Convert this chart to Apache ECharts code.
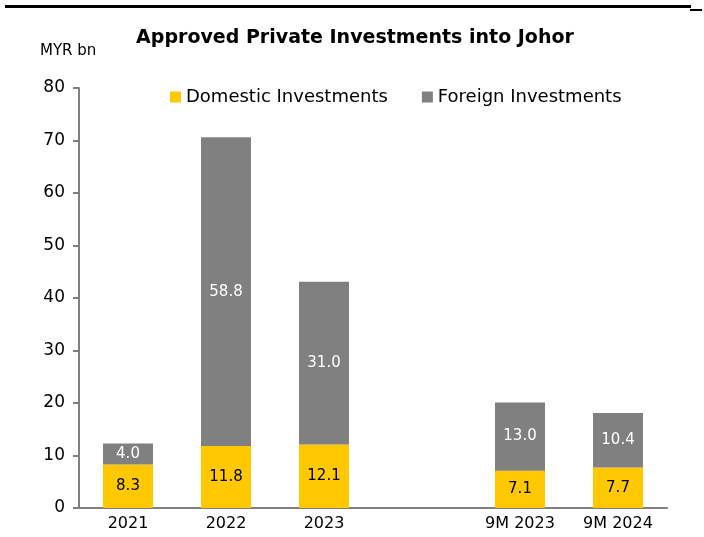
<!DOCTYPE html>
<html>
<head>
<meta charset="utf-8">
<script src="https://cdn.jsdelivr.net/npm/echarts@6/dist/echarts.min.js"></script>
<style>
  html, body {margin: 0; padding: 0; background: #fff;}
  #chart {width: 704px; height: 537px;}
</style>
</head>
<body>
<div id="chart"></div>
<script>
const categories = ['2021', '2022', '2023', '', '9M 2023', '9M 2024'];
const domestic = [8.3, 11.8, 12.1, null, 7.1, 7.7];
const foreign = [4.0, 58.8, 31.0, null, 13.0, 10.4];
const yTicks = [0, 10, 20, 30, 40, 50, 60, 70, 80];

const font = 'DejaVu Sans';
const chart = echarts.init(document.getElementById('chart'));

chart.setOption({
  animation: false,
  textStyle: {fontFamily: font},
  title: {
    text: 'Approved Private Investments into Johor',
    left: 350, textAlign: 'center', top: 24,
    textStyle: {fontFamily: font, fontSize: 19, fontWeight: 'bold', color: '#000'}
  },
  graphic: [
    {type: 'rect', shape: {x: 5, y: 5, width: 686, height: 3}, style: {fill: '#000'}},
    {type: 'rect', shape: {x: 690, y: 9, width: 12, height: 2}, style: {fill: '#000'}},
    {type: 'text', left: 40, top: 44, style: {text: 'MYR bn', fontFamily: font, fontSize: 15, fill: '#000'}}
  ],
  legend: {
    left: 165, top: 83,
    itemWidth: 11, itemHeight: 11, itemGap: 34,
    icon: 'rect',
    textStyle: {fontFamily: font, fontSize: 18, color: '#000'},
    data: ['Domestic Investments', 'Foreign Investments']
  },
  grid: {left: 79, right: 37, top: 88, bottom: 29},
  xAxis: {
    type: 'category',
    data: categories,
    axisTick: {show: false},
    axisLine: {lineStyle: {color: '#808080', width: 2}},
    axisLabel: {color: '#000', fontSize: 16, fontFamily: font, margin: 8}
  },
  yAxis: {
    type: 'value',
    min: yTicks[0], max: yTicks[yTicks.length - 1], interval: 10,
    splitLine: {show: false},
    axisLine: {show: true, lineStyle: {color: '#808080', width: 2}},
    axisTick: {show: true, inside: false, length: 6, lineStyle: {color: '#808080', width: 2}},
    axisLabel: {color: '#000', fontSize: 17, fontFamily: font, margin: 14}
  },
  series: [
    {
      name: 'Domestic Investments',
      type: 'bar', stack: 'total', barWidth: 50,
      data: domestic,
      itemStyle: {color: '#FFC800'},
      label: {show: true, position: 'inside', color: '#000', fontSize: 15, fontFamily: font,
        formatter: p => p.value.toFixed(1)}
    },
    {
      name: 'Foreign Investments',
      type: 'bar', stack: 'total', barWidth: 50,
      data: foreign,
      itemStyle: {color: '#808080'},
      label: {show: true, position: 'inside', color: '#fff', fontSize: 15, fontFamily: font,
        formatter: p => p.value.toFixed(1)}
    }
  ]
});
</script>
</body>
</html>
